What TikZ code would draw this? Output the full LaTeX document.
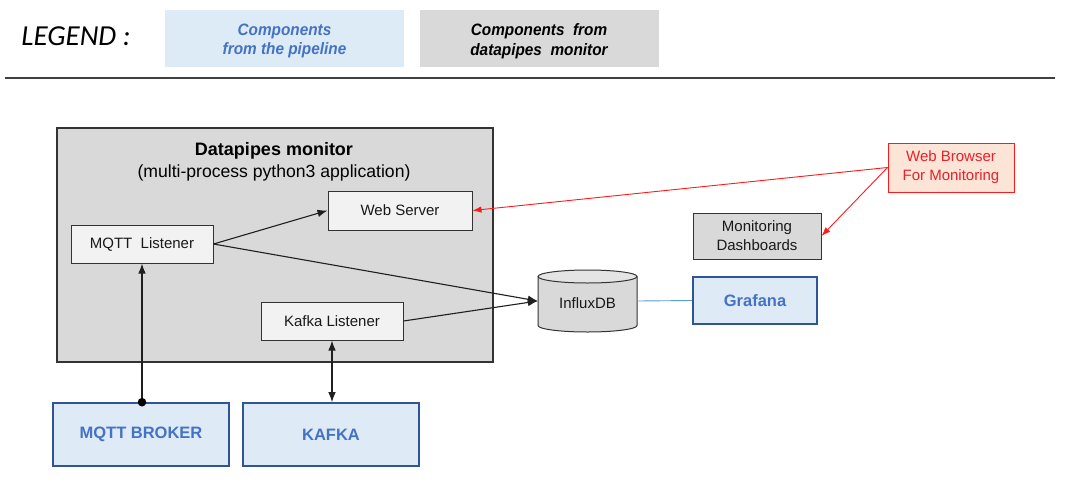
\documentclass[tikz,border=0pt]{standalone}
\usepackage{fontspec}
\setmainfont{Liberation Sans}
\newfontfamily\legendfont{Carlito}
\newfontfamily\legtextfont[FakeStretch=0.93]{Liberation Sans}
\usetikzlibrary{arrows.meta}
\definecolor{grayfill}{HTML}{D9D9D9}
\definecolor{lightfill}{HTML}{F2F2F2}
\definecolor{bluefill}{HTML}{DEEBF7}
\definecolor{legbluefill}{HTML}{DDEBF7}
\definecolor{blueline}{HTML}{2F5597}
\definecolor{bluetext}{HTML}{4472C4}
\definecolor{boxline}{HTML}{333333}
\definecolor{peach}{HTML}{FCE4D6}
\definecolor{redline}{HTML}{FF1A1A}
\definecolor{redtext}{HTML}{E8212A}
\definecolor{thinblue}{HTML}{5B9BD5}
\definecolor{rulecol}{HTML}{404040}
\definecolor{cyltop}{HTML}{E4E4E4}
\begin{document}
\begin{tikzpicture}[x=1pt,y=-1pt,
  every node/.style={inner sep=0pt, align=center},
  lab/.style={font=\fontsize{15}{19}\selectfont, text=black!90},
  inner/.style={lab, draw=boxline, line width=1pt, fill=lightfill},
  graybox/.style={lab, draw=boxline, line width=1pt, fill=grayfill},
  pipebox/.style={draw=blueline, line width=1.6pt, fill=bluefill, text=bluetext, font=\fontsize{16.5}{19}\selectfont\bfseries},
  legbox/.style={minimum width=239, minimum height=57},
  legtext/.style={font=\legtextfont\fontsize{16.5}{19.5}\selectfont\bfseries\itshape},
  arr/.style={draw=black!88, line width=1.1pt, -{Latex[length=10pt,width=7.5pt]}},
  redarr/.style={draw=redline, line width=0.9pt, -{Latex[length=9pt,width=6.5pt]}}
]
\useasboundingbox (0,0) rectangle (1065,485);
\fill[white] (0,0) rectangle (1065,485);

% legend
\node[font=\legendfont\itshape\fontsize{29}{32}\selectfont] (legend) at (76,36) {LEGEND :};
\node[legbox, fill=legbluefill] (leg1) at (284.5,38) {};
\node[legtext, text=bluetext] (leg1t) at (284.5,41) {Components\\from the pipeline};
\node[legbox, fill=grayfill] (leg2) at (539,38) {};
\node[legtext, text=black] (leg2t) at (539,41) {Components~~from\\datapipes~~monitor};
\coordinate (ruleL) at (5,78);
\coordinate (ruleR) at (1055,78);
\draw[rulecol, line width=1.6pt] (ruleL) -- (ruleR);

% container
\node[draw=boxline, line width=1.1pt, fill=grayfill, minimum width=436, minimum height=234] (dm) at (275,245) {};
\node[font=\fontsize{18}{20}\selectfont\bfseries] (title) at (274,151) {Datapipes monitor};
\node[font=\fontsize{17.6}{20}\selectfont] (sub) at (274,173) {(multi-process python3 application)};

\node[inner, minimum width=144, minimum height=39] (websrv) at (400,210.5) {Web Server};
\node[inner, minimum width=142, minimum height=38] (mqttl) at (142,244) {MQTT~~Listener};
\node[inner, minimum width=142, minimum height=38] (kafkal) at (332,321) {Kafka Listener};

% InfluxDB cylinder
\node[lab, minimum width=99, minimum height=62] (influx) at (587.5,301) {};
\fill[grayfill] (538,276.5) -- (538,325.5) arc[start angle=180, end angle=0, x radius=49.5, y radius=6.5] -- (637,276.5) -- cycle;
\draw[boxline, line width=1pt] (538,276.5) -- (538,325.5) arc[start angle=180, end angle=0, x radius=49.5, y radius=6.5] -- (637,276.5);
\draw[boxline, line width=1pt, fill=cyltop] (587.5,276.5) ellipse[x radius=49.5, y radius=6.5];
\node[lab] (influxlab) at (587.5,303) {InfluxDB};

\node[pipebox, minimum width=124, minimum height=47] (grafana) at (755,300.5) {Grafana};
\node[graybox, minimum width=128, minimum height=46] (dash) at (757,236) {Monitoring\\Dashboards};
\node[lab, draw=redline, line width=1pt, fill=peach, text=redtext, minimum width=126, minimum height=49] (browser) at (951,167.5) {Web Browser\\For Monitoring};

\node[pipebox, minimum width=176, minimum height=63] (broker) at (141,434.5) {MQTT BROKER};
\node[pipebox, minimum width=176, minimum height=63] (kafka) at (331,434.5) {KAFKA};

% connectors
\draw[arr] (mqttl.east) -- (websrv.west);
\draw[arr] (mqttl.east) -- (influx.west);
\draw[arr] (kafkal.east) -- (influx.west);
\draw[arr] (broker.north -| mqttl.south) -- (mqttl.south);
\fill[black] (broker.north -| mqttl.south) circle (4.3);
\draw[draw=black!88, line width=1.1pt, {Latex[length=10pt,width=7.5pt]}-{Latex[length=10pt,width=7.5pt]}] (kafkal.south) -- (kafka.north -| kafkal.south);
\draw[thinblue, line width=0.9pt] (influx.east) -- (grafana.west);
\draw[redarr] (browser.west) -- (websrv.east);
\draw[redarr] (browser.west) -- (dash.east);
\end{tikzpicture}
\end{document}
